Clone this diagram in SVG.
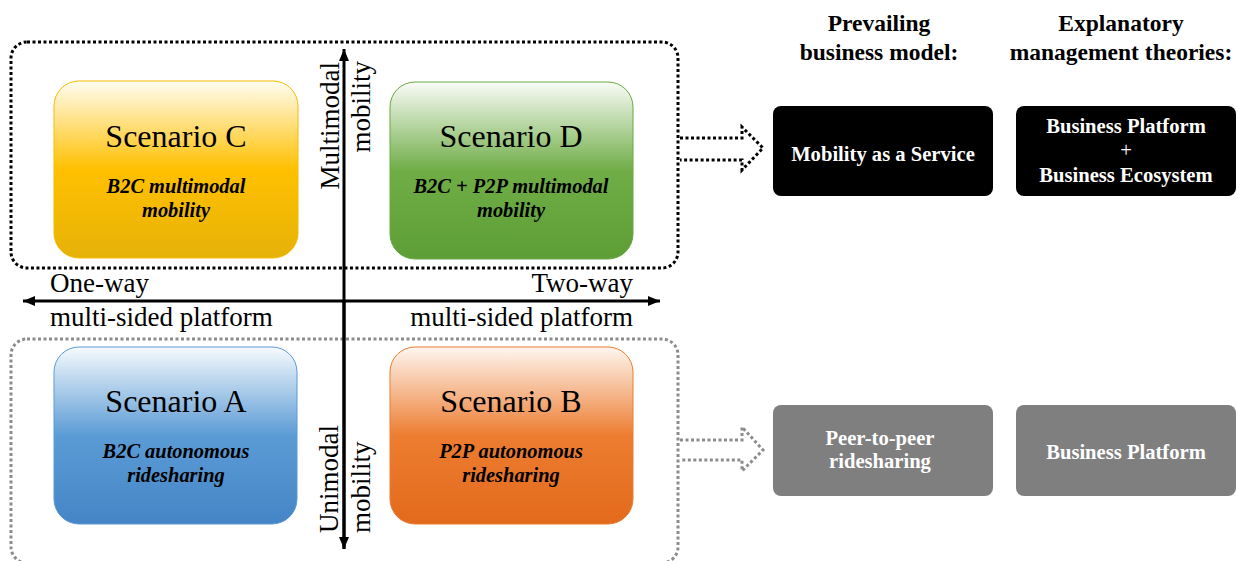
<svg xmlns="http://www.w3.org/2000/svg" width="1238" height="561" viewBox="0 0 1238 561">
<defs>
<linearGradient id="gC" x1="0" y1="0" x2="0" y2="1"><stop offset="0" stop-color="#fffdf3"/><stop offset="0.5" stop-color="#ffc000"/><stop offset="1" stop-color="#e6b208"/></linearGradient>
<linearGradient id="gD" x1="0" y1="0" x2="0" y2="1"><stop offset="0" stop-color="#f9fcf7"/><stop offset="0.5" stop-color="#70ad47"/><stop offset="1" stop-color="#5e9e36"/></linearGradient>
<linearGradient id="gA" x1="0" y1="0" x2="0" y2="1"><stop offset="0" stop-color="#f6fafd"/><stop offset="0.5" stop-color="#5b9bd5"/><stop offset="1" stop-color="#4585c6"/></linearGradient>
<linearGradient id="gB" x1="0" y1="0" x2="0" y2="1"><stop offset="0" stop-color="#fef6f0"/><stop offset="0.5" stop-color="#ed7d31"/><stop offset="1" stop-color="#e26a1c"/></linearGradient>
<marker id="ah" markerUnits="userSpaceOnUse" markerWidth="14" markerHeight="12" refX="12" refY="6" orient="auto"><path d="M0,1 L12,6 L0,11 Z" fill="#000"/></marker>
</defs>
<style>
.serif{font-family:"Liberation Serif","Times New Roman",serif;}
.title{font-size:32px;fill:#000;text-anchor:middle;}
.sub{font-size:20.4px;font-weight:bold;font-style:italic;fill:#000;text-anchor:middle;}
.axis{font-size:27px;fill:#000;}
.head{font-size:23.5px;font-weight:bold;fill:#000;text-anchor:middle;}
.btxt{font-size:20.6px;font-weight:bold;fill:#fff;text-anchor:middle;}
.dotbk{fill:none;stroke:#000;stroke-width:3;stroke-dasharray:3 2.5;}
.dotgr{fill:none;stroke:#8c8c8c;stroke-width:3;stroke-dasharray:3 2.5;}
</style>
<rect x="0" y="0" width="1238" height="561" fill="#fff"/>

<g id="group-multimodal">
<rect class="dotbk" x="11" y="42" width="667" height="226" rx="16"/>
</g>
<g id="group-unimodal">
<rect class="dotgr" x="11" y="339" width="667" height="224" rx="16"/>
</g>

<g id="scenario-c">
<rect x="54" y="81" width="244" height="177" rx="25" fill="url(#gC)" stroke="#f5bb00" stroke-width="1"/>
<text class="serif title" x="176" y="147">Scenario C</text>
<text class="serif sub" x="176" y="193">B2C multimodal</text>
<text class="serif sub" x="176" y="217">mobility</text>
</g>
<g id="scenario-d">
<rect x="390" y="82" width="243" height="177" rx="25" fill="url(#gD)" stroke="#6aa842" stroke-width="1"/>
<text class="serif title" x="511" y="147">Scenario D</text>
<text class="serif sub" x="511" y="193">B2C + P2P multimodal</text>
<text class="serif sub" x="511" y="217">mobility</text>
</g>
<g id="scenario-a">
<rect x="54" y="347" width="243" height="177" rx="25" fill="url(#gA)" stroke="#5b9bd5" stroke-width="1"/>
<text class="serif title" x="176" y="412">Scenario A</text>
<text class="serif sub" x="176" y="458">B2C autonomous</text>
<text class="serif sub" x="176" y="482">ridesharing</text>
</g>
<g id="scenario-b">
<rect x="390" y="347" width="243" height="177" rx="25" fill="url(#gB)" stroke="#ed7d31" stroke-width="1"/>
<text class="serif title" x="511" y="412">Scenario B</text>
<text class="serif sub" x="511" y="458">P2P autonomous</text>
<text class="serif sub" x="511" y="482">ridesharing</text>
</g>

<g id="axes">
<line x1="344" y1="549" x2="344" y2="49" stroke="#000" stroke-width="3" marker-end="url(#ah)"/>
<line x1="344" y1="300" x2="344" y2="549" stroke="#000" stroke-width="3" marker-end="url(#ah)"/>
<line x1="344" y1="301" x2="23" y2="301" stroke="#000" stroke-width="3" marker-end="url(#ah)"/>
<line x1="344" y1="301" x2="660" y2="301" stroke="#000" stroke-width="3" marker-end="url(#ah)"/>
</g>

<g id="axis-labels">
<text class="serif axis" transform="translate(339,62) rotate(-90)" text-anchor="end">Multimodal</text>
<text class="serif axis" transform="translate(370,61) rotate(-90)" text-anchor="end">mobility</text>
<text class="serif axis" transform="translate(338,533) rotate(-90)" text-anchor="start">Unimodal</text>
<text class="serif axis" transform="translate(370,533) rotate(-90)" text-anchor="start">mobility</text>
<text class="serif axis" x="50" y="292">One-way</text>
<text class="serif axis" x="50" y="326">multi-sided platform</text>
<text class="serif axis" x="633" y="292" text-anchor="end">Two-way</text>
<text class="serif axis" x="633" y="326" text-anchor="end">multi-sided platform</text>
</g>

<g id="connectors">
<polyline class="dotbk" points="680,138 742,138 742,127 763,148 742,170 742,160 680,160"/>
<polyline class="dotgr" points="680,440 742,440 742,427 763,450 742,471 742,460 680,460"/>
</g>

<g id="headers">
<text class="serif head" x="879" y="31">Prevailing</text>
<text class="serif head" x="879" y="60">business model:</text>
<text class="serif head" x="1121" y="31">Explanatory</text>
<text class="serif head" x="1121" y="60">management theories:</text>
</g>

<g id="maas">
<rect x="773" y="106" width="220" height="90" rx="8" fill="#000"/>
<text class="serif btxt" x="883" y="161">Mobility as a Service</text>
</g>
<g id="theory-top">
<rect x="1016" y="106" width="220" height="90" rx="8" fill="#000"/>
<text class="serif btxt" x="1126" y="133">Business Platform</text>
<text class="serif btxt" x="1126" y="157" style="font-weight:normal">+</text>
<text class="serif btxt" x="1126" y="182">Business Ecosystem</text>
</g>
<g id="p2p">
<rect x="773" y="405" width="220" height="91" rx="8" fill="#7f7f7f"/>
<text class="serif btxt" x="880" y="445">Peer-to-peer</text>
<text class="serif btxt" x="880" y="468">ridesharing</text>
</g>
<g id="theory-bottom">
<rect x="1016" y="405" width="220" height="91" rx="8" fill="#7f7f7f"/>
<text class="serif btxt" x="1126" y="459">Business Platform</text>
</g>
</svg>
